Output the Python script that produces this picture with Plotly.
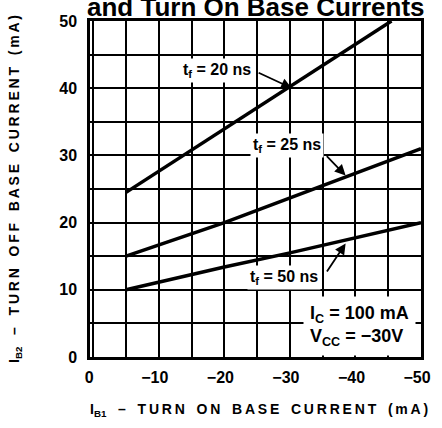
import plotly.graph_objects as go

# Data
ib1_20 = [-5, -45.5]
ib2_20 = [24.5, 50]
ib1_25 = [-5, -20, -35, -50]
ib2_25 = [15, 20, 25.5, 31]
ib1_50 = [-5, -20, -30, -50]
ib2_50 = [10, 13.4, 15.5, 20]
xticks = [0, -10, -20, -30, -40, -50]
xticklabels = ["0", "−10", "−20", "−30", "−40", "−50"]
yticks = [0, 10, 20, 30, 40, 50]

FONT = "Liberation Sans Narrow, Liberation Sans, Arial, sans-serif"


def spaced(word):
    return "\u2009".join(word)


def spaced_words(words):
    return "   ".join(spaced(w) for w in words)


fig = go.Figure()
for xs, ys in [(ib1_20, ib2_20), (ib1_25, ib2_25), (ib1_50, ib2_50)]:
    fig.add_trace(go.Scatter(x=xs, y=ys, mode="lines",
                             line=dict(color="black", width=3.5),
                             showlegend=False, hoverinfo="skip"))

axis_common = dict(showline=True, linecolor="black", linewidth=2.5, mirror=True,
                   showgrid=True, gridcolor="black", gridwidth=1.5,
                   zeroline=False, ticks="",
                   tickfont=dict(family=FONT, size=16, color="black", weight="bold"))

fig.update_xaxes(range=[0.5, -50], tickvals=xticks, ticktext=xticklabels,
                 minor=dict(tickvals=[-5, -15, -25, -35, -45], showgrid=True,
                            gridcolor="black", gridwidth=1.5, ticks=""),
                 ticklabelstandoff=4, ticklabelshift=4, **axis_common)
fig.update_yaxes(range=[0, 50], tickvals=yticks,
                 minor=dict(tickvals=[5, 15, 25, 35, 45], showgrid=True,
                            gridcolor="black", gridwidth=1.5, ticks=""),
                 ticklabelstandoff=7, **axis_common)

lab_font = dict(family=FONT, size=16, color="black", weight="bold")
labels = [
    ("t<sub>f</sub> = 20 ns", -18.8, 42.7),
    ("t<sub>f</sub> = 25 ns", -29.6, 31.4),
    ("t<sub>f</sub> = 50 ns", -29.1, 11.8),
]
for txt, x, y in labels:
    fig.add_annotation(x=x, y=y, text=txt, showarrow=False, bgcolor="white",
                       font=lab_font, borderpad=2)

arrows = [(-25, 42.4, -30.3, 40.0), (-35.4, 30.1, -38.5, 27.0), (-35.5, 12.5, -38.5, 16.9)]
for ax_, ay_, x, y in arrows:
    fig.add_annotation(x=x, y=y, ax=ax_, ay=ay_, axref="x", ayref="y", text="",
                       showarrow=True, arrowhead=2, arrowsize=1.2, arrowwidth=1.8,
                       arrowcolor="black", standoff=0, startstandoff=0)

fig.add_annotation(x=-40.6, y=4.6, text="I<sub>C</sub> = 100 mA<br>V<sub>CC</sub> = −30V",
                   showarrow=False, bgcolor="white", align="left", borderpad=6,
                   font=dict(family=FONT, size=18, color="black", weight="bold"))

# Title (partly cut off at the top)
fig.add_annotation(xref="paper", yref="paper", x=0.5, y=1.0, yshift=-3,
                   text="and Turn On Base Currents", showarrow=False,
                   yanchor="bottom",
                   font=dict(family="Liberation Sans, Arial, sans-serif", size=26,
                             color="black", weight="bold"))

# Axis titles
title_font = dict(family="Liberation Sans, Arial, sans-serif", size=14,
                  color="black", weight="bold")
fig.add_annotation(xref="paper", yref="paper", x=0.51, y=0, yshift=-53,
                   xanchor="center", yanchor="middle", showarrow=False,
                   text="I<sub>B1</sub>   –   " + spaced_words(["TURN", "ON", "BASE", "CURRENT", "(mA)"]),
                   font=title_font)
fig.add_annotation(xref="paper", yref="paper", x=0, y=0.5, xshift=-75,
                   xanchor="center", yanchor="middle", showarrow=False, textangle=-90,
                   text="I<sub>B2</sub>   –   " + spaced_words(["TURN", "OFF", "BASE", "CURRENT", "(mA)"]),
                   font=title_font)

fig.update_layout(width=442, height=428, margin=dict(l=90, r=11, t=21, b=71),
                  plot_bgcolor="white", paper_bgcolor="white")

fig.write_html("out.html", config={"displayModeBar": False},
               post_script="document.body.style.margin='0';")
